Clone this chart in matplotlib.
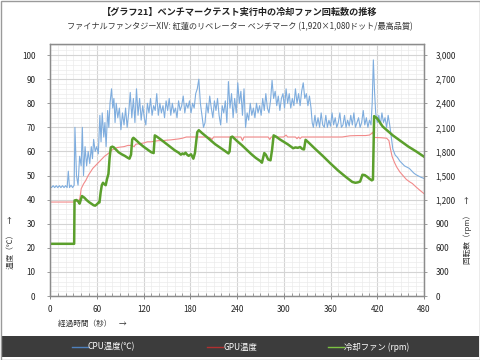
import matplotlib
matplotlib.use("Agg")
import matplotlib.pyplot as plt
from matplotlib.ticker import MultipleLocator, FuncFormatter
from matplotlib.patches import Rectangle

plt.rcParams['font.family'] = ['Noto Sans CJK JP', 'DejaVu Sans']

title = "【グラフ21】ベンチマークテスト実行中の冷却ファン回転数の推移"
subtitle = "ファイナルファンタジーXIV: 紅蓮のリベレーター ベンチマーク (1,920×1,080ドット/最高品質)"
xlabel = "経過時間（秒）　→"
ylabel_left = "温度（℃）　→"
ylabel_right = "回転数（rpm）　→"
legend_labels = ["CPU温度(℃)", "GPU温度", "冷却ファン (rpm)"]

xticks = [0, 60, 120, 180, 240, 300, 360, 420, 480]
yticks_left = [0, 10, 20, 30, 40, 50, 60, 70, 80, 90, 100]
yticks_right = [0, 300, 600, 900, 1200, 1500, 1800, 2100, 2400, 2700, 3000]

cpu_t = [0, 2, 4, 6, 8, 10, 12, 14, 16, 18, 20, 22, 23.5, 25, 27, 29, 31, 32, 34, 36,
         38, 40, 41.5, 43, 45, 47, 49, 51, 53, 54.5, 56, 58, 60, 62, 64, 65.5, 67, 69, 70.5, 72,
         74, 75.5, 77, 79, 80.5, 82, 83.5, 85, 87, 89, 91, 93, 95, 97, 99, 101, 103, 105, 107, 109,
         111, 113, 115, 117, 119, 121, 123, 125, 127, 129, 131, 133, 135, 137, 139, 141, 143, 145, 147, 149,
         151, 153, 155, 157, 159, 161, 163, 165, 167, 169, 171, 173, 175, 177, 179, 181, 183, 185, 187, 189,
         191, 193, 195, 197, 199, 201, 203, 205, 207, 209, 211, 213, 215, 217, 219, 221, 223, 225, 227, 229,
         231, 233, 235, 237, 239, 241, 243, 245, 247, 249, 251, 253, 255, 257, 259, 261, 263, 265, 267, 269,
         271, 273, 275, 277, 279, 281, 283, 285, 287, 289, 291, 293, 295, 297, 299, 301, 303, 305, 307, 309,
         311, 313, 315, 317, 319, 321, 323, 325, 327, 329, 331, 333, 335, 336.5, 338, 340, 342, 344, 346, 348,
         350, 352, 354, 356, 358, 360, 362, 364, 366, 368, 370, 372, 374, 376, 378, 380, 382, 384, 386, 388,
         390, 392, 394, 396, 398, 400, 402, 404, 406, 408, 410, 412, 413.5, 415, 416.5, 418, 420, 422, 424, 426,
         428, 430, 432, 434, 436, 438, 440, 443, 446, 449, 452, 455, 458, 461, 464, 467, 470, 473, 476, 480]
cpu_v = [45.5, 45, 45.8, 45, 45.8, 45, 45.8, 45, 45.8, 45, 45.8, 45, 51.8, 45, 46, 45, 46, 70, 50, 46,
         58, 54, 70, 50, 62, 54, 60, 55, 62, 57, 65, 60, 62, 59, 75, 64, 76, 66, 72, 62,
         77, 70, 80, 86, 78, 82, 72, 80, 74, 78, 69, 76, 71, 78, 70, 76, 84.5, 74, 82, 72,
         86, 75, 82, 73, 79, 74, 71, 80, 76, 82, 75, 79, 77, 84, 75, 80, 76, 79, 74, 81,
         77, 82, 75, 80, 76, 78, 74, 81, 77, 79, 83, 76, 80, 78, 81, 76, 80, 78, 84, 86,
         90, 80, 75, 70, 72, 80, 76, 83, 78, 74, 81, 77, 82, 75, 71, 79, 76, 81, 72, 89,
         78, 84, 74, 82, 76, 88.5, 80, 85, 75, 86, 70, 76, 73, 80, 75, 78, 74, 80, 76, 79,
         75, 82, 77, 84, 78, 76, 81, 89.5, 82, 85, 79, 83, 77, 82, 84, 78, 86, 80, 84, 78,
         82, 79, 86, 80, 84, 79, 85, 88.5, 82, 84, 79, 83, 78, 72, 70, 75, 70.5, 74, 70, 76,
         71, 70, 75, 70, 73, 70.5, 76, 71, 74, 70, 72, 76, 70, 71, 75, 70, 73, 70.5, 75, 71,
         76, 70, 72, 74, 70, 72, 77, 71, 74, 70, 73, 71, 80, 98, 85, 76, 72, 75, 71, 76,
         72, 74, 70, 75, 71, 66, 61, 58.5, 57.5, 56, 55, 54, 53.5, 53, 52, 51, 50.3, 49.8, 49.3, 48.8]

gpu_t = [0, 10, 20, 30, 35, 38, 39, 40, 43, 46, 49, 52, 55, 58, 61, 64, 67, 70, 73, 76,
         79, 82, 86, 90, 95, 100, 105, 108, 110, 115, 120, 125, 130, 135, 140, 145, 150, 155, 160, 165,
         170, 175, 180, 190, 200, 205, 208, 210, 220, 230, 240, 245, 247, 249, 260, 270, 280, 282, 284, 290,
         300, 303, 305, 315, 317, 319, 321, 323, 335, 345, 355, 365, 375, 385, 395, 405, 410, 413, 414, 415.5,
         417, 425, 432, 435, 437, 439, 442, 445, 449, 453, 457, 461, 465, 470, 475, 480]
gpu_v = [39, 39, 39, 39, 39.5, 40, 42, 44.5, 46.5, 48, 50, 51.5, 53, 54, 55, 56, 57, 58, 58.7, 59.5,
         60.5, 61, 61.6, 61.8, 62, 62.5, 62.5, 62, 63, 63.2, 63.5, 64, 64, 64.3, 64.5, 64.5, 64.7, 64.8, 65, 65.2,
         65.5, 66, 66, 66, 66, 65.8, 65, 66, 66, 66, 66, 66, 64.5, 66, 66, 66, 66, 65, 66, 66,
         66, 66.8, 66, 66, 65.3, 66, 65.3, 66, 66, 66, 66, 66, 66, 66.5, 66.6, 66.6, 66.8, 67.5, 68, 66.5,
         65.8, 65.7, 65.5, 64.5, 61, 58, 55.5, 53.5, 51.5, 50, 48.5, 47.5, 46.7, 45.2, 43.8, 42.5]

fan_t = [0, 31, 31.5, 34, 36, 38, 41, 44, 47, 50, 53, 56, 58, 60, 62, 63.5, 65, 66.5, 68, 70,
         71.5, 73, 75, 76.5, 78, 80, 82, 84, 86, 88, 92, 96, 100, 102, 104, 105.5, 107, 110, 115, 120,
         125, 130, 133, 134.5, 137, 142, 148, 154, 160, 165, 168, 170, 172, 174, 176, 178, 181, 184, 186, 189,
         191, 195, 200, 206, 212, 218, 224, 229, 230.5, 232, 234, 240, 246, 252, 258, 264, 270, 272, 275, 277,
         280, 283, 285, 287, 290, 295, 300, 305, 310, 312, 315, 318, 321, 324, 326, 328, 332, 340, 350, 360,
         370, 380, 388, 392, 395, 398, 401, 404, 407, 410, 413, 414.5, 416, 420, 427, 440, 450, 460, 470, 480]
fan_v = [650, 650, 1190, 1195, 1180, 1150, 1245, 1225, 1195, 1170, 1150, 1130, 1125, 1140, 1160, 1165, 1290, 1380, 1410, 1390,
         1380, 1450, 1520, 1720, 1850, 1860, 1850, 1830, 1810, 1790, 1765, 1745, 1720, 1710, 1760, 1950, 1970, 1945, 1900, 1860,
         1825, 1790, 1780, 2000, 1985, 1950, 1905, 1860, 1815, 1785, 1760, 1775, 1765, 1785, 1760, 1745, 1765, 1710, 1780, 2040,
         2065, 2030, 1990, 1940, 1890, 1850, 1810, 1775, 1800, 1975, 1985, 1930, 1880, 1825, 1770, 1720, 1680, 1660, 1780, 1760,
         1700, 1690, 1820, 2000, 1985, 1950, 1920, 1890, 1855, 1840, 1850, 1845, 1855, 1830, 1825, 1945, 1910, 1835, 1745, 1650,
         1560, 1480, 1420, 1410, 1415, 1425, 1510, 1505, 1485, 1460, 1440, 1450, 2240, 2210, 2110, 2000, 1930, 1860, 1800, 1735]

cpu_color = "#7fadde"
gpu_color = "#f28a8a"
fan_color = "#5b9f2c"

fig = plt.figure(figsize=(4.8, 3.6), dpi=100)
fig.patch.set_facecolor("white")

ax = fig.add_axes([50/480, 64/360, 374/480, 252/360])
ax2 = ax.twinx()

ax.set_xlim(0, 480)
ax.set_ylim(0, 104.6)
ax2.set_ylim(0, 104.6 * 30)

ax.xaxis.set_major_locator(MultipleLocator(60))
ax.xaxis.set_minor_locator(MultipleLocator(10))
ax.yaxis.set_major_locator(MultipleLocator(10))
ax.yaxis.set_minor_locator(MultipleLocator(2))
ax.set_xticks(xticks)
ax.set_yticks(yticks_left)
ax2.set_yticks(yticks_right)
ax2.yaxis.set_major_formatter(FuncFormatter(lambda v, p: f"{int(v):,}"))

ax.grid(which="major", color="#d4d4d4", lw=0.8)
ax.grid(which="minor", color="#ebebeb", lw=0.5)
ax.set_axisbelow(True)

ax.plot(cpu_t, cpu_v, color=cpu_color, lw=0.8)
ax.plot(gpu_t, gpu_v, color=gpu_color, lw=0.8)
ax2.plot(fan_t, fan_v, color=fan_color, lw=1.8)

for a in (ax, ax2):
    for s in a.spines.values():
        s.set_color("#8c8c8c")
        s.set_linewidth(0.9)

ax.tick_params(axis="x", which="major", direction="inout", length=5, width=0.7, color="#8c8c8c",
               labelsize=5.8, pad=4, labelcolor="#222222")
ax.tick_params(axis="x", which="minor", direction="in", length=2.5, width=0.6, color="#8c8c8c")
ax.tick_params(axis="y", which="major", direction="out", length=2.5, width=0.6, color="#8c8c8c",
               labelsize=5.8, pad=8, labelcolor="#222222")
ax.tick_params(axis="y", which="minor", length=0)
ax2.tick_params(axis="y", which="major", direction="out", length=2.5, width=0.6, color="#8c8c8c",
                labelsize=5.8, pad=6, labelcolor="#222222")

fig.text(0.5, 1 - 12/360, title, ha="center", va="center", fontsize=6.6, fontweight="bold", color="#222222")
fig.text(0.5, 1 - 27/360, subtitle, ha="center", va="center", fontsize=5.9, color="#333333")
fig.text(58/480, 1 - 324/360, xlabel, ha="left", va="center", fontsize=5.5, color="#333333")
fig.text(11/480, 1 - 242/360, ylabel_left, ha="center", va="center", rotation=90, fontsize=5.5, color="#333333")
fig.text(468/480, 1 - 230/360, ylabel_right, ha="center", va="center", rotation=90, fontsize=5.5, color="#333333")

# legend bar
fig.patches.append(Rectangle((1/480, 3/360), 478/480, 21/360, transform=fig.transFigure,
                             facecolor="#3c3c3c", edgecolor="none", zorder=0))
leg_y = 1 - 347/360
legend_colors = ["#4f81bd", "#b03030", "#7cc242"]
legend_x = [72, 207, 328]
for x0, col, lab in zip(legend_x, legend_colors, legend_labels):
    fig.lines.append(plt.Line2D([x0/480, (x0+16)/480], [leg_y, leg_y], transform=fig.transFigure,
                                color=col, lw=1.0))
    fig.text((x0+16)/480, leg_y, lab, ha="left", va="center", fontsize=6.0, color="white")

# outer frame
fig.patches.append(Rectangle((0.5/480, 0.5/360), 479/480, 359/360, transform=fig.transFigure,
                             facecolor="none", edgecolor="#9a9a9a", lw=1.0, zorder=10))

fig.savefig("out.png", dpi=100)
